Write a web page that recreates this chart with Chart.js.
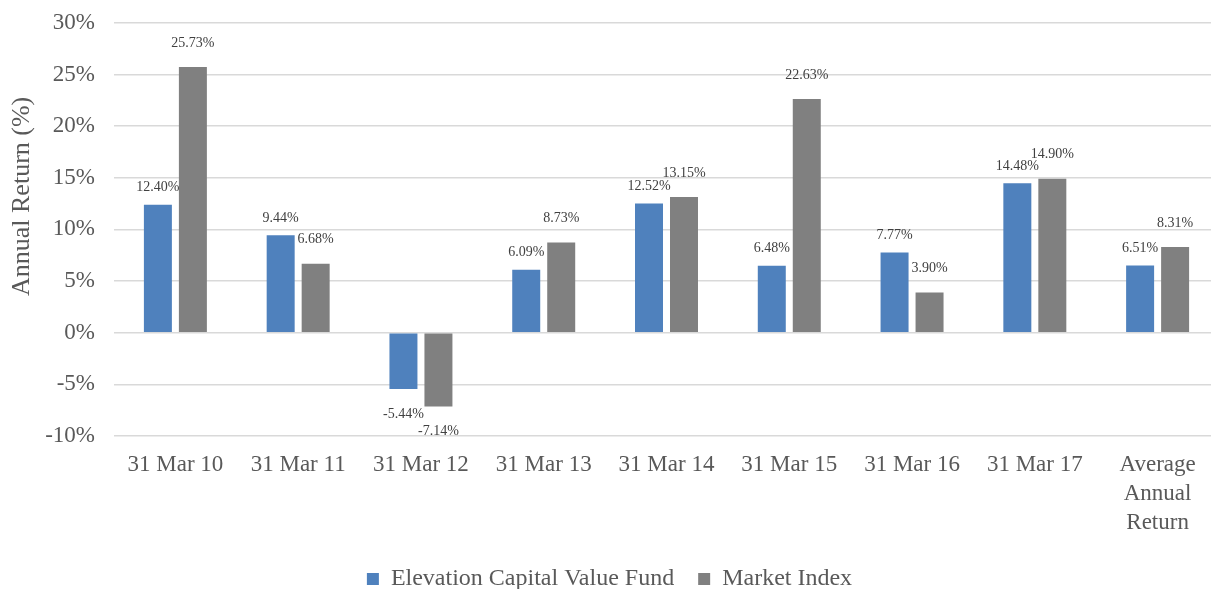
<!DOCTYPE html>
<html>
<head>
<meta charset="utf-8">
<script src="https://cdn.jsdelivr.net/npm/chart.js@4.4.1/dist/chart.umd.min.js"></script>
<style>
  html, body { margin: 0; padding: 0; background: #ffffff; overflow: hidden; }
  #wrap { width: 1219px; height: 611px; margin-top: -10px; }
</style>
</head>
<body>
<div id="wrap"><canvas id="chart-returns"></canvas></div>
<script>
const CATEGORIES = [
  "31 Mar 10", "31 Mar 11", "31 Mar 12", "31 Mar 13", "31 Mar 14",
  "31 Mar 15", "31 Mar 16", "31 Mar 17", ["Average", "Annual", "Return"],
];
const FUND_RETURNS = [12.40, 9.44, -5.44, 6.09, 12.52, 6.48, 7.77, 14.48, 6.51];
const INDEX_RETURNS = [25.73, 6.68, -7.14, 8.73, 13.15, 22.63, 3.90, 14.90, 8.31];
const SERIES_NAMES = ["Elevation Capital Value Fund", "Market Index"];
const SERIES_COLORS = ["#4f81bd", "#808080"];
const Y_TITLE = "Annual Return (%)";

const FONT = "'Liberation Serif', 'Times New Roman', serif";
const TEXT_COLOR = "#595959";

// value labels above (or below, for negatives) each bar
const valueLabels = {
  id: "valueLabels",
  afterDatasetsDraw(chart) {
    const { ctx } = chart;
    ctx.save();
    ctx.font = "14px " + FONT;
    ctx.fillStyle = "#404040";
    ctx.textAlign = "center";
    ctx.textBaseline = "middle";
    chart.data.datasets.forEach((ds, di) => {
      const meta = chart.getDatasetMeta(di);
      meta.data.forEach((bar, i) => {
        const v = ds.data[i];
        const y = v >= 0 ? bar.y - (di === 0 ? 17 : 24) : bar.y + 25;
        ctx.fillText(v.toFixed(2) + "%", bar.x, y);
      });
    });
    ctx.restore();
  },
};

// rotated y title, a bit above the middle of the plot like the original
const yTitle = {
  id: "yTitle",
  afterDraw(chart) {
    const { ctx, chartArea } = chart;
    ctx.save();
    ctx.translate(22, chartArea.top + (chartArea.bottom - chartArea.top) * 0.42);
    ctx.rotate(-Math.PI / 2);
    ctx.font = "26px " + FONT;
    ctx.fillStyle = TEXT_COLOR;
    ctx.textAlign = "center";
    ctx.textBaseline = "middle";
    ctx.fillText(Y_TITLE, 0, 0);
    ctx.restore();
  },
};

new Chart(document.getElementById("chart-returns"), {
  type: "bar",
  data: {
    labels: CATEGORIES,
    datasets: [
      { label: SERIES_NAMES[0], data: FUND_RETURNS, backgroundColor: SERIES_COLORS[0] },
      { label: SERIES_NAMES[1], data: INDEX_RETURNS, backgroundColor: SERIES_COLORS[1] },
    ],
  },
  options: {
    responsive: true,
    maintainAspectRatio: false,
    animation: false,
    categoryPercentage: 0.57,
    barPercentage: 0.8,
    layout: { padding: { top: 0, bottom: 0, left: 0, right: 0 } },
    plugins: {
      tooltip: { enabled: false },
      legend: {
        position: "bottom",
        labels: {
          color: TEXT_COLOR,
          font: { family: FONT, size: 24 },
          boxWidth: 12,
          boxHeight: 12,
          padding: 24,
        },
      },
    },
    scales: {
      x: {
        grid: { display: false },
        border: { display: false },
        ticks: { color: TEXT_COLOR, font: { family: FONT, size: 23, lineHeight: 1.26 }, maxRotation: 0, padding: 6 },
      },
      y: {
        min: -10,
        max: 30,
        afterFit: (scale) => { scale.width = 114; },
        grid: { color: "#d9d9d9", lineWidth: 1.5, drawTicks: false },
        border: { display: false },
        ticks: {
          stepSize: 5,
          color: TEXT_COLOR,
          font: { family: FONT, size: 23 },
          padding: 19,
          callback: (v) => v + "%",
        },
      },
    },
  },
  plugins: [valueLabels, yTitle],
});
</script>
</body>
</html>
